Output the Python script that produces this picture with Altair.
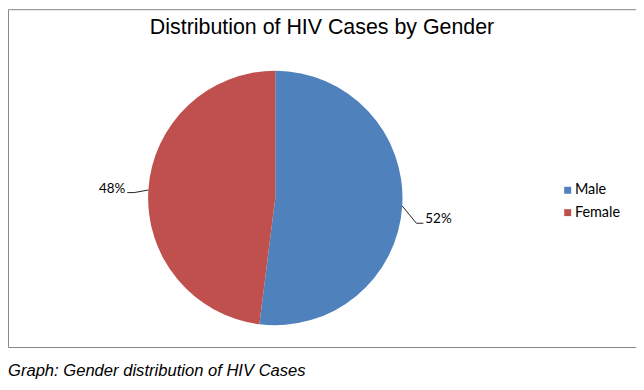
import altair as alt
import pandas as pd

categories = ["Male", "Female"]
values = [52, 48]
colors = ["#4F81BD", "#C0504D"]
title_text = "Distribution of HIV Cases by Gender"
caption_text = "Graph: Gender distribution of HIV Cases"

df = pd.DataFrame({"category": categories, "value": values,
                   "order": list(range(len(categories)))})

W, H = 632, 340
CX, CY, R = 269, 190, 128

base = alt.Chart(df)

pie = base.mark_arc(radius=R).encode(
    theta=alt.Theta("value:Q", stack=True),
    order=alt.Order("order:Q"),
    color=alt.Color(
        "category:N",
        scale=alt.Scale(domain=categories, range=colors),
        legend=alt.Legend(
            title=None, orient="none", legendX=556, legendY=175,
            symbolType="square", symbolSize=49, symbolStrokeWidth=0,
            labelFont="Lato", labelFontSize=14.5, labelColor="#000000",
            rowPadding=7.5, labelOffset=0, padding=0,
        ),
    ),
    x=alt.value(CX),
    y=alt.value(CY),
)

geo = (
    base.transform_joinaggregate(total="sum(value)")
    .transform_window(cum="sum(value)", sort=[alt.SortField("order")], frame=[None, 0])
    .transform_calculate(mid="2*PI*(datum.cum - datum.value/2)/datum.total")
    .transform_calculate(s="sin(datum.mid) >= 0 ? 1 : -1")
    .transform_calculate(ex=f"{CX} + {R}*sin(datum.mid)")
    .transform_calculate(ey=f"{CY} - {R}*cos(datum.mid)")
    .transform_calculate(ly=f"{CY} - 150*cos(datum.mid) + (datum.s > 0 ? 12 : 0)")
    .transform_calculate(lyl="datum.ly + 4")
    .transform_calculate(lx=f"{CX} + 151*datum.s")
    .transform_calculate(kx=f"{CX} + 142*datum.s")
    .transform_calculate(tx=f"{CX} + 149*datum.s")
    .transform_calculate(label="datum.value + '%'")
)

lead1 = geo.mark_rule(color="#222222", strokeWidth=1).encode(
    x=alt.X("ex:Q", scale=None, axis=None),
    y=alt.Y("ey:Q", scale=None, axis=None),
    x2="kx:Q", y2="lyl:Q",
)
lead2 = geo.mark_rule(color="#222222", strokeWidth=1).encode(
    x=alt.X("kx:Q", scale=None, axis=None),
    y=alt.Y("lyl:Q", scale=None, axis=None),
    x2="tx:Q", y2="lyl:Q",
)
lab_r = geo.transform_filter("datum.s > 0").mark_text(
    align="left", baseline="middle", font="Lato", fontSize=13.5, color="#000000"
).encode(
    x=alt.X("lx:Q", scale=None, axis=None),
    y=alt.Y("ly:Q", scale=None, axis=None),
    text="label:N",
)
lab_l = geo.transform_filter("datum.s < 0").mark_text(
    align="right", baseline="middle", font="Lato", fontSize=13.5, color="#000000"
).encode(
    x=alt.X("lx:Q", scale=None, axis=None),
    y=alt.Y("ly:Q", scale=None, axis=None),
    text="label:N",
)

title = alt.Chart(pd.DataFrame({"t": [title_text]})).mark_text(
    align="center", baseline="alphabetic", font="Liberation Sans", fontSize=21.5, color="#000000"
).encode(x=alt.value(316), y=alt.value(25), text="t:N")

caption = alt.Chart(pd.DataFrame({"t": [caption_text]})).mark_text(
    align="left", baseline="alphabetic", font="Liberation Sans", fontSize=16.7,
    fontStyle="italic", color="#000000"
).encode(x=alt.value(0), y=alt.value(369), text="t:N")

chart = (
    alt.layer(pie, lead1, lead2, lab_r, lab_l, title, caption)
    .properties(width=W, height=H, autosize="none",
                padding={"left": 0, "top": 0, "right": 0, "bottom": 34})
    .configure_view(stroke="#878787", strokeWidth=1, clip=False)
)

chart.save("out.html", embed_options={"renderer": "svg", "actions": False})
